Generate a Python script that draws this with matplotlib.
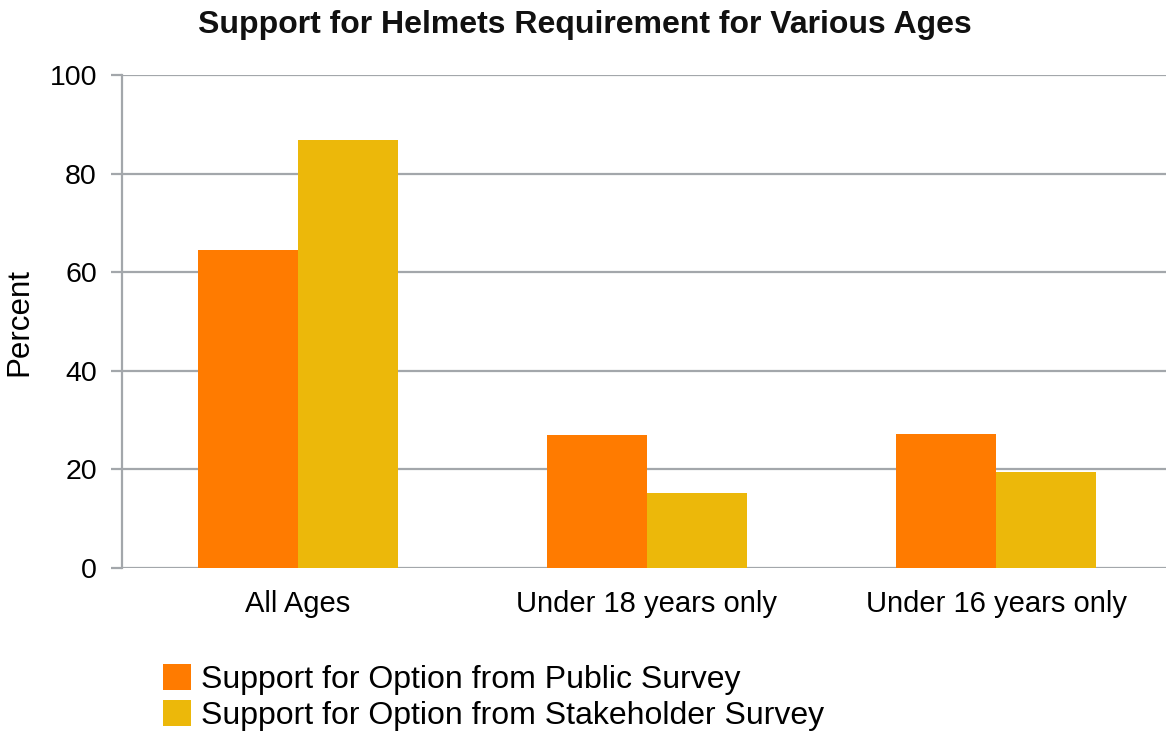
#importing package
import numpy as np
import matplotlib.pyplot as plt

plt.rcParams['font.family'] = ['Liberation Sans', 'DejaVu Sans']

#chart data
categories = ['All Ages', 'Under 18 years only', 'Under 16 years only']
public_survey = [64.6, 26.9, 27.2]
stakeholder_survey = [86.8, 15.3, 19.4]
series_names = ['Support for Option from Public Survey',
                'Support for Option from Stakeholder Survey']

orange = '#FF7B00'
yellow = '#ECB80A'
gray = '#A3A7AB'

fig = plt.figure(figsize=(11.66, 7.36), dpi=100)
ax = fig.add_axes([122/1166, 1-568/736, 1-122/1166, (568-75)/736])

x = np.arange(len(categories))
w = 0.2865
b1 = ax.bar(x - w/2, public_survey, w, color=orange, label=series_names[0], zorder=3)
b2 = ax.bar(x + w/2, stakeholder_survey, w, color=yellow, label=series_names[1], zorder=3)

ax.set_ylim(0, 100)
ax.set_xlim(-0.504, 2.487)
ax.set_yticks([0, 20, 40, 60, 80, 100])
ax.set_xticks(x)
ax.set_xticklabels(categories)
ax.yaxis.grid(True, color=gray, linewidth=1.6, zorder=0)
ax.tick_params(axis='y', length=8, width=1.6, color=gray, labelsize=20.5, pad=10)
ax.tick_params(axis='x', length=0, labelsize=21, pad=16)
for s in ['top', 'right', 'bottom']:
    ax.spines[s].set_visible(False)
ax.spines['left'].set_color(gray)
ax.spines['left'].set_linewidth(1.6)
ax.set_ylabel('Percent', fontsize=22.5, labelpad=11)

fig.text(585/1166, 1-25/736, 'Support for Helmets Requirement for Various Ages',
         ha='center', va='center', fontsize=23, fontweight='bold', color='#111111')

fig.legend(handles=[b1, b2], loc='upper left', bbox_to_anchor=(163/1166, 1-664/736),
           frameon=False, fontsize=23, handlelength=0.88, handleheight=0.88,
           handletextpad=0.3, labelspacing=0.16, borderaxespad=0, borderpad=0)

fig.savefig('out.png', dpi=100)
